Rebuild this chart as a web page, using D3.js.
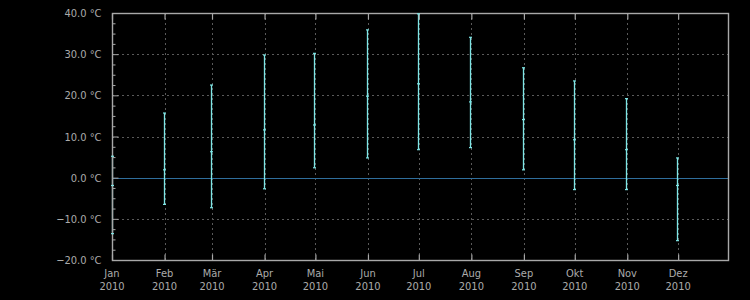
<!DOCTYPE html>
<html><head><meta charset="utf-8">
<script src="https://cdn.jsdelivr.net/npm/d3@7"></script>
<style>
html,body{margin:0;padding:0;background:#000;}
svg{display:block;}
</style></head>
<body>
<script>
const months = ["Jan","Feb","Mär","Apr","Mai","Jun","Jul","Aug","Sep","Okt","Nov","Dez"];
const year = "2010";
const tMax  = [5.2,15.7,22.5,29.8,30.2,35.9,39.8,34.1,26.7,23.5,19.2,4.8];
const tMean = [-1.9,1.9,6.3,11.6,12.8,19.8,22.8,18.4,14.1,9.2,6.8,-1.9];
const tMin  = [-13.6,-6.5,-7.3,-2.7,2.4,4.8,6.8,7.3,1.9,-2.9,-2.9,-15.3];
const yTicks = [-20,-10,0,10,20,30,40];

const W = 750, H = 300;
const m = {left:112, right:21, top:13, bottom:40};

const svg = d3.select("body").append("svg").attr("width",W).attr("height",H)
  .style("background","#000");

const dates = months.map((_,i)=>new Date(Date.UTC(2010,i,1)));
const x = d3.scaleUtc().domain([new Date(Date.UTC(2010,0,1)), new Date(Date.UTC(2010,11,31))])
  .range([m.left, W-m.right]);
const y = d3.scaleLinear().domain([-20,40]).range([H-m.bottom, m.top]);

const fontFam = "'DejaVu Sans Condensed','DejaVu Sans',sans-serif";
const axisCol = "#a8a8a8", gridCol = "#5a5a5a", textCol = "#ababab";

// grid
const g = svg.append("g");
g.selectAll(".vg").data(dates.slice(1)).enter().append("line")
  .attr("x1",d=>Math.round(x(d))+0.5).attr("x2",d=>Math.round(x(d))+0.5)
  .attr("y1",y(40)).attr("y2",y(-20))
  .attr("stroke",gridCol).attr("stroke-dasharray","2,3");
g.selectAll(".hg").data(yTicks.filter(v=>v!==0 && v!==40 && v!==-20)).enter().append("line")
  .attr("x1",x.range()[0]).attr("x2",x.range()[1])
  .attr("y1",d=>Math.round(y(d))+0.5).attr("y2",d=>Math.round(y(d))+0.5)
  .attr("stroke",gridCol).attr("stroke-dasharray","2,3");

// zero line
svg.append("line").attr("x1",x.range()[0]).attr("x2",x.range()[1])
  .attr("y1",Math.round(y(0))+0.5).attr("y2",Math.round(y(0))+0.5)
  .attr("stroke","#2f6e9c").attr("stroke-width",1);

// error bars
const barCol = "#7fe6e6";
const barX = i => Math.max(Math.round(x(dates[i]))-0.5, m.left+0.5);
const bars = svg.append("g");
months.forEach((mn,i)=>{
  const cx = barX(i);
  bars.append("line").attr("x1",cx).attr("x2",cx)
    .attr("y1",y(tMax[i])).attr("y2",y(tMin[i]))
    .attr("stroke",barCol).attr("stroke-width",1.3);
});

// frame
const fr = svg.append("g");
fr.append("rect").attr("x",m.left+0.5).attr("y",m.top+0.5)
  .attr("width",x.range()[1]-m.left-1).attr("height",y(-20)-m.top)
  .attr("fill","none").attr("stroke",axisCol).attr("stroke-width",1.4);

// month ticks top & bottom
const xAxisB = d3.axisBottom(x).tickValues(dates).tickSize(-6).tickFormat("");
const xb = svg.append("g").attr("transform",`translate(0,${y(-20)+0.5})`).call(xAxisB);
const xAxisT = d3.axisTop(x).tickValues(dates).tickSize(-6).tickFormat("");
const xt = svg.append("g").attr("transform",`translate(0,${m.top+0.5})`).call(xAxisT);
[xb,xt].forEach(a=>{a.select(".domain").remove(); a.selectAll("line").attr("stroke",axisCol).attr("stroke-width",1.2);});

// y minor ticks
const minor = d3.range(-20,40.01,2.5).filter(v=>v%10!==0);
const yAxisMinor = d3.axisLeft(y).tickValues(minor).tickSize(-3).tickFormat("");
const ym = svg.append("g").attr("transform",`translate(${m.left+0.5},0)`).call(yAxisMinor);
ym.select(".domain").remove();
ym.selectAll("line").attr("stroke",axisCol);
const yAxisMajor = d3.axisLeft(y).tickValues(yTicks).tickSize(-6).tickPadding(11)
  .tickFormat(d=>d3.format(".1f")(d)+" °C");
const yM = svg.append("g").attr("transform",`translate(${m.left+0.5},0)`).call(yAxisMajor);
yM.select(".domain").remove();
yM.selectAll("line").attr("stroke",axisCol);
yM.selectAll("text").attr("fill",textCol).style("font-family",fontFam).style("font-size","11px");

// x labels
const xl = svg.append("g");
dates.forEach((d,i)=>{
  const t = xl.append("text").attr("x",x(d)).attr("y",277)
    .attr("text-anchor","middle").attr("fill",textCol)
    .style("font-family",fontFam).style("font-size","11px");
  t.append("tspan").attr("x",x(d)).attr("y",277).text(months[i]);
  t.append("tspan").attr("x",x(d)).attr("y",290).text(year);
});

// caps and mean ticks (drawn last)
const caps = svg.append("g");
months.forEach((mn,i)=>{
  const cx = barX(i);
  [tMax[i],tMean[i],tMin[i]].forEach(v=>{
    caps.append("line").attr("x1",cx-1.5).attr("x2",cx+1.5)
      .attr("y1",y(v)).attr("y2",y(v))
      .attr("stroke",barCol).attr("stroke-width",1.2);
  });
});
</script>
</body></html>
